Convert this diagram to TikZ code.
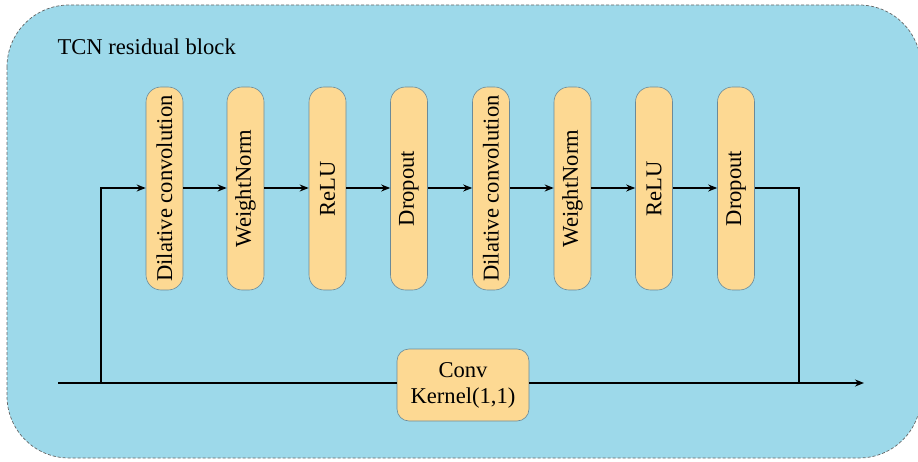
\documentclass[tikz,border=0pt]{standalone}
\usepackage{fontspec}
\setmainfont{Liberation Serif}
\usetikzlibrary{arrows.meta}
\definecolor{bgblue}{HTML}{9DD9EA}
\definecolor{boxfill}{HTML}{FDD993}
\definecolor{boxline}{HTML}{6A8A9A}
\begin{document}
\begin{tikzpicture}[x=1pt,y=-1pt,
  layerbox/.style={draw=boxline, line width=0.6pt, fill=boxfill, rounded corners=15pt,
    minimum width=37pt, minimum height=203pt, inner sep=0pt, font=\fontsize{22.6}{24}\selectfont},
  convbox/.style={draw=boxline, line width=0.6pt, fill=boxfill, rounded corners=12pt,
    minimum width=132pt, minimum height=72pt, inner sep=0pt, align=center,
    font=\fontsize{22.6}{26}\selectfont},
  flow/.style={line width=2.8pt, -{Stealth[length=9pt,width=7pt]}},
  plain/.style={line width=2.8pt}]
\useasboundingbox (0,0) rectangle (918,462);
\begin{scope}
\clip (0,0) rectangle (918,462);
\draw[fill=bgblue, draw=gray!80!black, densely dashed, line width=0.7pt, rounded corners=62pt]
  (7,5) rectangle (921,458);
\end{scope}
\node[anchor=base west, font=\fontsize{22.6}{24}\selectfont] (title) at (54,55) {TCN residual block};
\node[layerbox] (b1) at (164.5,188.5) {\rotatebox{90}{Dilative convolution}};
\node[layerbox] (b2) at (245.5,188.5) {\rotatebox{90}{WeightNorm}};
\node[layerbox] (b3) at (327.5,188.5) {\rotatebox{90}{ReLU}};
\node[layerbox] (b4) at (409,188.5) {\rotatebox{90}{Dropout}};
\node[layerbox] (b5) at (491,188.5) {\rotatebox{90}{Dilative convolution}};
\node[layerbox] (b6) at (572.5,188.5) {\rotatebox{90}{WeightNorm}};
\node[layerbox] (b7) at (654,188.5) {\rotatebox{90}{ReLU}};
\node[layerbox] (b8) at (736,188.5) {\rotatebox{90}{Dropout}};
\node[convbox] (conv) at (463,385) {Conv\\Kernel(1,1)};
\coordinate (in) at (58,383);
\coordinate (split) at (101,383);
\coordinate (join) at (799,383);
\coordinate (out) at (864,383);
\draw[plain] (in) -- (conv.west |- in);
\draw[plain] (conv.east |- in) -- (join);
\draw[flow] (join) -- (out);
\draw[flow] (split) |- (b1.west |- 0,188);
\draw[flow] (b1.east |- 0,188) -- (b2.west |- 0,188);
\draw[flow] (b2.east |- 0,188) -- (b3.west |- 0,188);
\draw[flow] (b3.east |- 0,188) -- (b4.west |- 0,188);
\draw[flow] (b4.east |- 0,188) -- (b5.west |- 0,188);
\draw[flow] (b5.east |- 0,188) -- (b6.west |- 0,188);
\draw[flow] (b6.east |- 0,188) -- (b7.west |- 0,188);
\draw[flow] (b7.east |- 0,188) -- (b8.west |- 0,188);
\draw[plain] (b8.east |- 0,188) -| (join);
\end{tikzpicture}
\end{document}
